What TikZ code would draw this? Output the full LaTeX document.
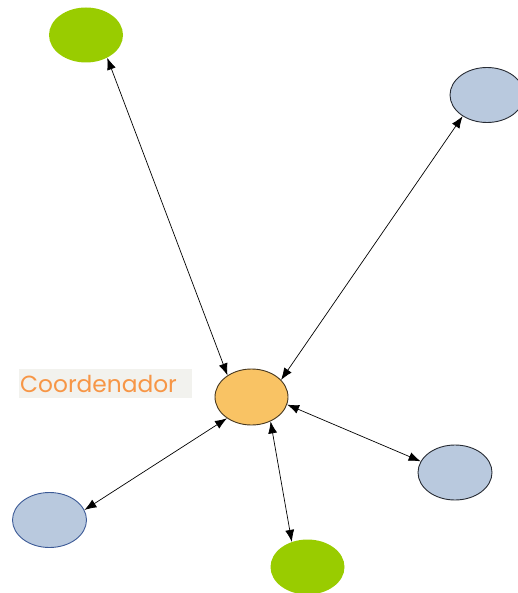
\documentclass[tikz,border=0pt]{standalone}
\usepackage{fontspec}
\newfontfamily\labelfont{Poppins}
\usetikzlibrary{arrows.meta,shapes.geometric}

\definecolor{leaf}{RGB}{153,204,0}
\definecolor{steel}{RGB}{185,201,222}
\definecolor{steeledge}{RGB}{40,44,52}
\definecolor{steelblue}{RGB}{60,90,150}
\definecolor{amber}{RGB}{249,195,100}
\definecolor{amberedge}{RGB}{70,55,30}
\definecolor{labelorange}{RGB}{247,150,70}
\definecolor{labelbg}{RGB}{242,242,238}

\tikzset{
  member/.style={ellipse, minimum width=74pt, minimum height=55pt, inner sep=0pt},
  greenmember/.style={member, fill=leaf},
  bluemember/.style={member, fill=steel, draw=steeledge, line width=0.9pt},
  hub/.style={ellipse, minimum width=73pt, minimum height=56pt, inner sep=0pt,
    fill=amber, draw=amberedge, line width=0.9pt},
  link/.style={{Latex[length=12pt,width=9pt]}-{Latex[length=12pt,width=9pt]}, line width=0.7pt, black},
  tag/.style={fill=labelbg, text=labelorange, font=\labelfont\fontsize{23.3}{26}\selectfont,
    anchor=west, inner xsep=1pt, inner ysep=0pt, text width=171pt, minimum height=29pt, align=left}
}

\begin{document}
\begin{tikzpicture}[x=1pt,y=-1pt]
  \useasboundingbox (0,0) rectangle (518,593);

  % coordinator and its members
  \node[hub] (c) at (251.5,397) {};
  \node[greenmember] (g1) at (86,35) {};
  \node[bluemember] (b1) at (487,95) {};
  \node[bluemember, draw=steelblue] (b2) at (49.5,520) {};
  \node[greenmember] (g2) at (307.5,567) {};
  \node[bluemember] (b3) at (455,472.5) {};

  % label beside the coordinator
  \node[tag] (lbl) at (19,383.5) {Coordenador};

  % two-way links
  \draw[link] (g1.-47) -- (c.138);
  \draw[link] (b1.221) -- (c.30);
  \draw[link] (b2.16) -- (c.221);
  \draw[link] (g2.122) -- (c.-52);
  \draw[link] (b3.162) -- (c.-12);
\end{tikzpicture}
\end{document}
